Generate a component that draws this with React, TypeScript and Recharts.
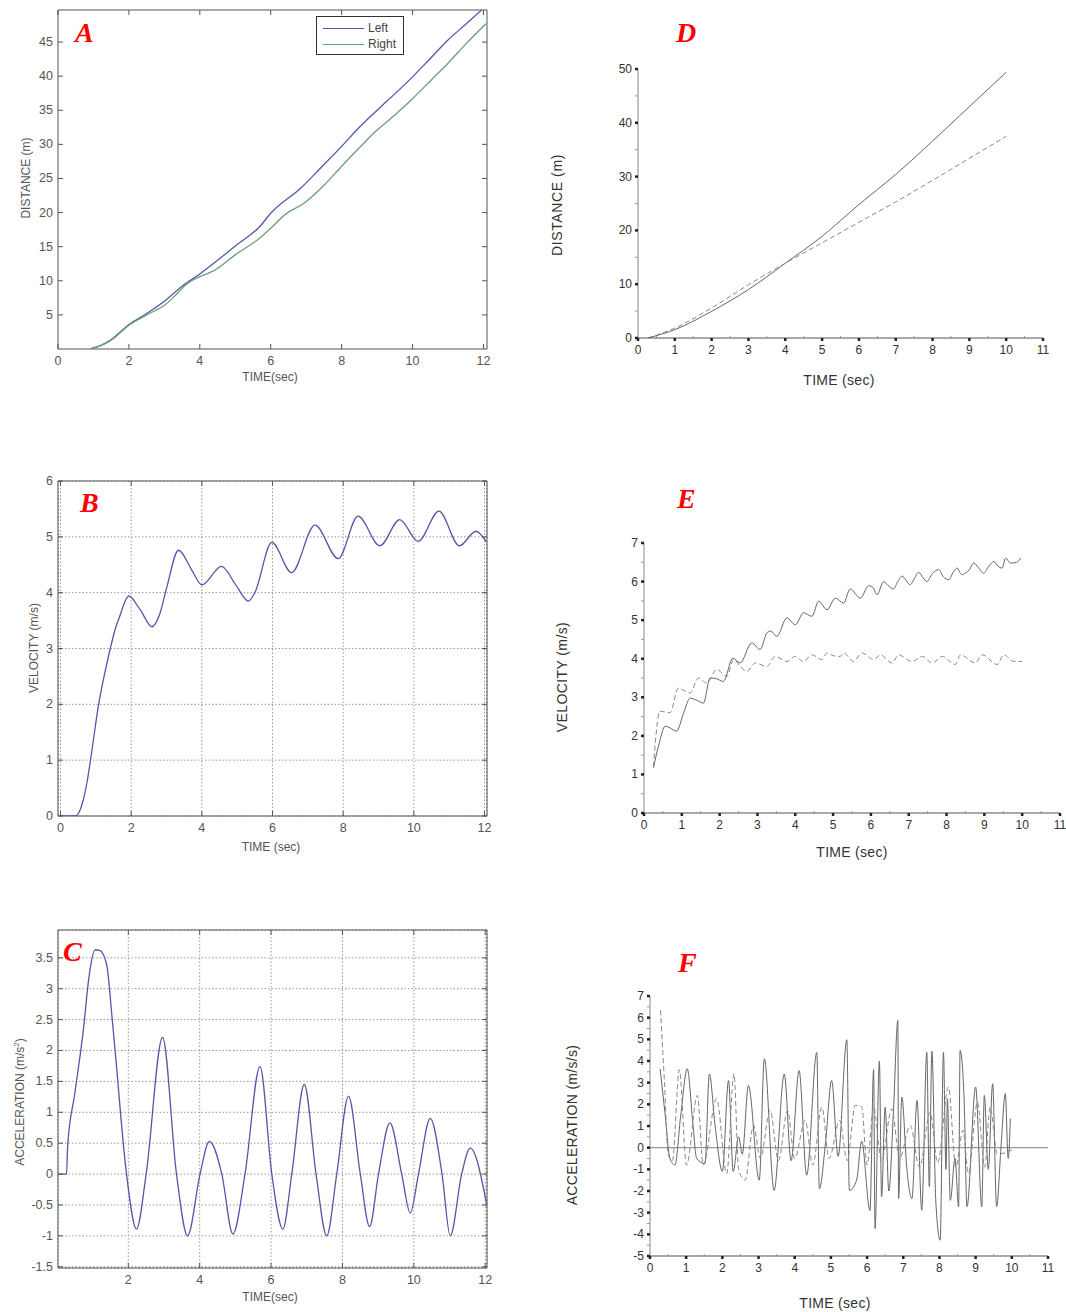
import React from "react";
import {
  LineChart, Line, XAxis, YAxis, CartesianGrid, ReferenceArea, ReferenceLine, Legend,
} from "recharts";

type Pt = { t: number; v: number };
const pts = (rows: number[][]): Pt[] => rows.map(([t, v]) => ({ t, v }));

// ---------- A: distance (left / right wheel)
const aLeft = pts([
  [0.9, 0], [1.2, 0.5], [1.48, 1.3], [2, 3.6], [2.5, 5.2], [3, 7.0], [3.5, 9.2], [4, 11.0],
  [4.5, 13.0], [5, 15.1], [5.7, 18.0], [6, 19.9], [6.85, 23.6], [7.4, 26.5], [8, 29.7],
  [8.5, 32.5], [9, 35.0], [9.5, 37.4], [10, 39.9], [10.5, 42.6], [11, 45.3], [11.5, 47.6], [11.95, 49.7],
]);
const aRight = pts([
  [0.9, 0], [1.2, 0.5], [1.5, 1.3], [2, 3.5], [2.5, 5.0], [3, 6.4], [3.3, 7.8], [3.65, 9.6],
  [4, 10.6], [4.4, 11.5], [5, 13.8], [5.7, 16.3], [6, 17.7], [6.4, 19.7], [6.95, 21.4],
  [7.5, 24.0], [8, 26.8], [8.5, 29.5], [9, 32.1], [9.5, 34.3], [10, 36.7], [10.5, 39.3],
  [11, 41.9], [11.5, 44.7], [12.07, 47.7],
]);
const A_XTICKS = [0, 2, 4, 6, 8, 10, 12];
const A_YTICKS = [5, 10, 15, 20, 25, 30, 35, 40, 45];

// ---------- B: velocity
const bVel = pts([
  [0, 0], [0.42, 0], [0.55, 0.1], [0.65, 0.3], [0.75, 0.6], [0.85, 1.0], [1.08, 2.0], [1.25, 2.55],
  [1.41, 3.0], [1.55, 3.35], [1.69, 3.6], [1.8, 3.8], [1.93, 3.94], [2.26, 3.69], [2.59, 3.39],
  [2.8, 3.6], [3.01, 4.1], [3.34, 4.76], [3.72, 4.4], [4.0, 4.14], [4.56, 4.47], [4.95, 4.15],
  [5.32, 3.85], [5.5, 4.0], [5.98, 4.9], [6.54, 4.36], [7.2, 5.21], [7.86, 4.61], [8.42, 5.37],
  [9.04, 4.84], [9.6, 5.31], [10.12, 4.92], [10.71, 5.46], [11.29, 4.84], [11.76, 5.1], [12.05, 4.91],
]);
const B_XTICKS = [0, 2, 4, 6, 8, 10, 12];
const B_YTICKS = [0, 1, 2, 3, 4, 5, 6];

// ---------- C: acceleration
const cAcc = pts([
  [0, 0], [0.27, 0], [0.3, 0.45], [0.5, 1.3], [0.74, 2.33], [0.9, 3.2], [1.07, 3.63], [1.2, 3.62],
  [1.39, 3.4], [1.55, 2.5], [1.63, 2.0], [1.95, 0], [2.23, -0.89], [2.5, 0], [2.96, 2.21], [3.35, 0],
  [3.66, -1.0], [4.01, 0], [4.27, 0.53], [4.62, 0], [4.93, -0.97], [5.27, 0], [5.69, 1.74], [6.02, 0],
  [6.33, -0.89], [6.58, 0], [6.93, 1.45], [7.26, 0], [7.56, -1.0], [7.84, 0], [8.17, 1.26], [8.5, 0],
  [8.76, -0.85], [9.01, 0], [9.33, 0.83], [9.66, 0], [9.9, -0.63], [10.13, 0], [10.46, 0.9], [10.79, 0],
  [11.02, -1.0], [11.34, 0], [11.58, 0.42], [12.05, -0.52],
]);
const C_XTICKS = [2, 4, 6, 8, 10, 12];
const C_YTICKS = [-1.5, -1, -0.5, 0, 0.5, 1, 1.5, 2, 2.5, 3, 3.5];

// ---------- D: distance (measured vs model)
const dSolid = pts([
  [0.27, 0], [1, 1.55], [2, 4.96], [3, 9.0], [4, 13.9], [5, 18.9], [6, 24.8], [7, 30.4],
  [8, 36.6], [9, 43.0], [10, 49.4],
]);
const dDashed = pts([
  [0.27, 0], [1, 1.85], [2, 5.6], [3, 9.9], [4, 13.9], [5, 17.7], [6, 21.5], [7, 25.3],
  [8, 29.3], [9, 33.4], [10, 37.5],
]);

// ---------- E: velocity
const eSolid = pts([
  [0.25, 1.17], [0.4, 1.8], [0.56, 2.25], [0.7, 2.2], [0.86, 2.12], [1.05, 2.6], [1.22, 2.98],
  [1.4, 2.92], [1.57, 2.85], [1.75, 3.5], [1.92, 3.48], [2.1, 3.41], [2.35, 4.02], [2.54, 3.89],
  [2.85, 4.41], [3.07, 4.24], [3.25, 4.67], [3.35, 4.72], [3.51, 4.58], [3.78, 5.06], [4.0, 4.88],
  [4.22, 5.19], [4.44, 5.1], [4.62, 5.49], [4.84, 5.27], [5.06, 5.57], [5.28, 5.44], [5.45, 5.81],
  [5.72, 5.57], [5.94, 5.89], [6.05, 5.85], [6.16, 5.66], [6.34, 6.0], [6.45, 5.9], [6.6, 5.81],
  [6.7, 5.98], [6.82, 6.14], [7.04, 5.92], [7.15, 6.08], [7.26, 6.24], [7.38, 6.1], [7.48, 6.0],
  [7.62, 6.2], [7.79, 6.31], [7.92, 6.12], [8.06, 6.05], [8.18, 6.25], [8.28, 6.35], [8.4, 6.18],
  [8.5, 6.22], [8.6, 6.3], [8.72, 6.48], [8.85, 6.35], [8.98, 6.22], [9.12, 6.4], [9.25, 6.52],
  [9.36, 6.4], [9.47, 6.35], [9.56, 6.61], [9.69, 6.48], [9.85, 6.5], [9.96, 6.61],
]);
const eDashed = pts([
  [0.25, 1.2], [0.42, 2.64], [0.55, 2.62], [0.69, 2.6], [0.91, 3.24], [1.05, 3.18], [1.22, 3.11],
  [1.44, 3.5], [1.66, 3.37], [1.92, 3.72], [2.19, 3.54], [2.37, 3.98], [2.55, 3.8], [2.72, 3.67],
  [2.94, 3.89], [3.25, 3.8], [3.47, 4.06], [3.78, 3.93], [4.0, 4.06], [4.22, 3.93], [4.44, 4.1],
  [4.7, 3.98], [4.84, 4.15], [5.0, 4.08], [5.19, 4.06], [5.28, 4.15], [5.54, 3.93], [5.76, 4.15],
  [6.07, 3.98], [6.25, 4.1], [6.56, 3.89], [6.73, 4.1], [7.09, 3.93], [7.36, 4.06], [7.62, 3.89],
  [7.89, 4.06], [8.23, 3.85], [8.37, 4.1], [8.76, 3.89], [8.94, 4.1], [9.34, 3.85], [9.51, 4.1],
  [9.78, 3.93], [10.0, 3.93],
]);

// ---------- F: acceleration
const fSolid = pts([
  [0.28, 3.64], [0.42, 1.5], [0.55, -0.5], [0.69, -0.8], [0.85, 1.5], [1.03, 3.64], [1.18, 1.2],
  [1.29, -0.5], [1.52, -0.74], [1.64, 3.4], [1.8, 1.0], [2.0, -1.1], [2.17, 3.1], [2.3, -1.1],
  [2.45, 0.5], [2.55, -0.3], [2.72, 2.87], [3.02, -1.5], [3.16, 4.1], [3.43, -1.97], [3.71, 3.4],
  [3.9, -0.6], [4.12, 3.56], [4.33, -1.27], [4.61, 4.4], [4.68, -1.9], [4.85, 0.2], [5.02, 3.1],
  [5.2, -0.4], [5.44, 4.98], [5.51, -1.97], [5.71, -1.5], [5.85, 0.3], [6.08, -2.9], [6.18, 3.6],
  [6.22, -3.73], [6.34, 4.0], [6.4, -2.27], [6.5, 1.87], [6.6, -2.0], [6.73, 1.72], [6.85, 5.87],
  [6.87, -2.35], [6.96, 2.33], [7.1, -1.0], [7.24, -2.35], [7.38, 2.18], [7.51, -2.89], [7.65, 4.4],
  [7.72, -1.8], [7.79, 4.45], [7.9, -2.5], [8.02, -4.27], [8.11, 4.4], [8.18, -1.0], [8.22, 2.26],
  [8.3, -2.43], [8.43, -0.5], [8.53, -2.73], [8.57, 4.49], [8.68, 2.33], [8.76, -2.73], [9.0, 2.8],
  [9.17, -2.73], [9.24, 2.41], [9.35, -1.0], [9.47, 2.95], [9.58, -2.73], [9.7, 0.0], [9.82, 2.49],
  [9.9, -0.5], [9.96, 1.34],
]);
const fDashed = pts([
  [0.29, 6.34], [0.4, 3.0], [0.5, -0.3], [0.62, -0.6], [0.81, 3.6], [1.01, -0.8], [1.31, 2.41],
  [1.47, -0.8], [1.84, 2.26], [2.12, -1.2], [2.32, 3.41], [2.45, -1.0], [2.63, -1.5], [2.86, 1.03],
  [3.05, -0.5], [3.32, 1.72], [3.55, -0.6], [3.8, 1.72], [4.0, -0.5], [4.29, 1.26], [4.5, -0.8],
  [4.75, 1.87], [4.95, -0.5], [5.24, 1.26], [5.45, -0.6], [5.67, 1.95], [5.85, 1.9], [6.0, -0.8],
  [6.18, 1.87], [6.4, -0.6], [6.68, 1.8], [6.9, -0.5], [7.19, 1.03], [7.45, -0.9], [7.74, 1.64],
  [7.95, -0.7], [8.25, 2.8], [8.45, -0.9], [8.65, 0.8], [8.8, -1.2], [9.05, 2.1], [9.25, -0.9],
  [9.4, 1.87], [9.6, -0.3], [10.0, -0.1],
]);

// tick helper for the old-style axes (major + half-step minor ticks)
const steps = (a: number, b: number, s: number) => {
  const out: number[] = [];
  for (let v = a; v <= b + 1e-9; v += s) out.push(Math.round(v * 100) / 100);
  return out;
};
const OLD_XTICKS = steps(0, 11, 0.5);
const D_YTICKS = steps(0, 50, 5);
const E_YTICKS = steps(0, 7, 0.5);
const F_YTICKS = steps(-5, 7, 0.5);

const SANS = '"Liberation Sans", Arial, Helvetica, sans-serif';
const SERIF = '"Liberation Serif", "Times New Roman", serif';
const PAD_L = 60, PAD_T = 10, PAD_R = 10, PAD_B = 40;

type Box = { l: number; t: number; r: number; b: number };

function MatXTick(p: any) {
  const { x, payload, pTop, pBot } = p;
  return (
    <g>
      <line x1={x} x2={x} y1={pBot} y2={pBot - 5} stroke="#555" />
      <line x1={x} x2={x} y1={pTop} y2={pTop + 5} stroke="#555" />
      <text x={x} y={pBot + 12} textAnchor="middle" dominantBaseline="central"
        fontSize={12.5} fill="#555" fontFamily={SANS}>{payload.value}</text>
    </g>
  );
}

function MatYTick(p: any) {
  const { y, payload, pLeft, pRight } = p;
  return (
    <g>
      <line x1={pLeft} x2={pLeft + 5} y1={y} y2={y} stroke="#555" />
      <line x1={pRight} x2={pRight - 5} y1={y} y2={y} stroke="#555" />
      <text x={pLeft - 5} y={y} textAnchor="end" dominantBaseline="central"
        fontSize={12.5} fill="#555" fontFamily={SANS}>{payload.value}</text>
    </g>
  );
}

function OldXTick(p: any) {
  const { x, payload, pBot } = p;
  const major = Number.isInteger(payload.value);
  return (
    <g>
      {major
        ? <line x1={x} x2={x} y1={pBot} y2={pBot + 3} stroke="#222" strokeWidth={2.5} />
        : <line x1={x} x2={x} y1={pBot - 2} y2={pBot + 1} stroke="#999" />}
      {major && (
        <text x={x} y={pBot + 12} textAnchor="middle" dominantBaseline="central"
          fontSize={12} fill="#333" fontFamily={SANS}>{payload.value}</text>
      )}
    </g>
  );
}

function OldYTick(p: any) {
  const { y, payload, pLeft, every } = p;
  const v = payload.value;
  const major = Math.abs(v / every - Math.round(v / every)) < 1e-6;
  return (
    <g>
      {major
        ? <line x1={pLeft - 3} x2={pLeft} y1={y} y2={y} stroke="#222" strokeWidth={2.5} />
        : <line x1={pLeft - 3} x2={pLeft} y1={y} y2={y} stroke="#999" />}
      {major && (
        <text x={pLeft - 6} y={y} textAnchor="end" dominantBaseline="central"
          fontSize={12} fill="#333" fontFamily={SANS}>{v}</text>
      )}
    </g>
  );
}

function LegendBox({ payload }: any) {
  return (
    <div style={{
      border: "1px solid #333", background: "#fff", width: 86, height: 37,
      position: "relative", fontFamily: SANS, fontSize: 12, color: "#444",
    }}>
      {(payload || []).map((p: any, i: number) => (
        <div key={p.value} style={{ position: "absolute", left: 6, top: 3 + i * 16, height: 16, display: "flex", alignItems: "center" }}>
          <span style={{ display: "inline-block", width: 41, borderTop: `1.3px solid ${p.color}`, marginRight: 4 }} />
          {p.value}
        </div>
      ))}
    </div>
  );
}

type Series = { name: string; data: Pt[]; color: string; dashed?: boolean };

function MatPanel({ box, xDomain, yDomain, xTicks, yTicks, grid, series, legend }: {
  box: Box; xDomain: number[]; yDomain: number[]; xTicks: number[]; yTicks: number[];
  grid?: boolean; series: Series[]; legend?: boolean;
}) {
  const W = box.r - box.l + PAD_L + PAD_R;
  const H = box.b - box.t + PAD_T + PAD_B;
  const pl = PAD_L, pr = W - PAD_R, pt = PAD_T, pb = H - PAD_B;
  return (
    <div style={{ position: "absolute", left: box.l - PAD_L, top: box.t - PAD_T }}>
      <LineChart width={W} height={H} margin={{ top: 10, right: 10, bottom: 10, left: 10 }}>
        {grid && <CartesianGrid stroke="#999" strokeDasharray="1.5 2" />}
        <ReferenceArea x1={xDomain[0]} x2={xDomain[1]} y1={yDomain[0]} y2={yDomain[1]}
          fill="none" stroke="#555" ifOverflow="visible" />
        <XAxis type="number" dataKey="t" domain={xDomain} ticks={xTicks} interval={0} allowDataOverflow
          axisLine={false} tickLine={false} height={30}
          tick={(p: any) => <MatXTick {...p} pTop={pt} pBot={pb} />} />
        <YAxis type="number" domain={yDomain} ticks={yTicks} interval={0} allowDataOverflow
          axisLine={false} tickLine={false} width={50}
          tick={(p: any) => <MatYTick {...p} pLeft={pl} pRight={pr} />} />
        {series.map((s) => (
          <Line key={s.name} data={s.data} dataKey="v" name={s.name} type="monotone"
            stroke={s.color} strokeWidth={1.3} dot={false} isAnimationActive={false} />
        ))}
        {legend && (
          <Legend layout="vertical" align="center" verticalAlign="middle"
            wrapperStyle={{ left: 318, top: 16, width: 88, height: 39 }}
            content={(props: any) => <LegendBox {...props} />} />
        )}
      </LineChart>
    </div>
  );
}

function OldPanel({ box, yDomain, yTicks, every, series, zeroLine }: {
  box: Box; yDomain: number[]; yTicks: number[]; every: number; series: Series[]; zeroLine?: boolean;
}) {
  const W = box.r - box.l + PAD_L + PAD_R;
  const H = box.b - box.t + PAD_T + PAD_B;
  const pl = PAD_L, pb = H - PAD_B;
  return (
    <div style={{ position: "absolute", left: box.l - PAD_L, top: box.t - PAD_T }}>
      <LineChart width={W} height={H} margin={{ top: 10, right: 10, bottom: 10, left: 10 }}>
        <XAxis type="number" dataKey="t" domain={[0, 11]} ticks={OLD_XTICKS} interval={0} allowDataOverflow
          axisLine={{ stroke: "#555", strokeWidth: 1.2 }} tickLine={false} height={30}
          tick={(p: any) => <OldXTick {...p} pBot={pb} />} />
        <YAxis type="number" domain={yDomain} ticks={yTicks} interval={0} allowDataOverflow
          axisLine={{ stroke: "#888" }} tickLine={false} width={50}
          tick={(p: any) => <OldYTick {...p} pLeft={pl} every={every} />} />
        {zeroLine && <ReferenceLine y={0} stroke="#999" strokeWidth={1.2} />}
        {series.map((s) => (
          <Line key={s.name} data={s.data} dataKey="v" name={s.name} type="monotone"
            stroke={s.color} strokeWidth={1} strokeDasharray={s.dashed ? "5 3" : undefined}
            dot={false} isAnimationActive={false} />
        ))}
      </LineChart>
    </div>
  );
}

function Title({ x, y, text, rotate, size = 12, color = "#555", spacing = 0 }: {
  x: number; y: number; text: React.ReactNode; rotate?: boolean; size?: number; color?: string; spacing?: number;
}) {
  return (
    <div style={{
      position: "absolute", left: x, top: y, whiteSpace: "nowrap", fontFamily: SANS,
      fontSize: size, color, letterSpacing: spacing, lineHeight: 1,
      transform: `translate(-50%, -50%)${rotate ? " rotate(-90deg)" : ""}`,
    }}>{text}</div>
  );
}

function Letter({ x, y, ch }: { x: number; y: number; ch: string }) {
  return (
    <div style={{
      position: "absolute", left: x, top: y, fontFamily: SERIF, fontWeight: "bold",
      fontStyle: "italic", fontSize: 28, lineHeight: "28px", color: "#ff0000",
    }}>{ch}</div>
  );
}

const BLUE = "#5656a8";
const GREEN = "#6a9f7c";
const GREY = "#666";
const GREY_D = "#888";

export default function App() {
  return (
    <div style={{ position: "absolute", left: 0, top: 0, width: 1066, height: 1312, background: "#fff", overflow: "hidden" }}>
      <MatPanel box={{ l: 58, t: 10, r: 487, b: 349 }} xDomain={[0, 12.1]} yDomain={[0, 49.7]}
        xTicks={A_XTICKS} yTicks={A_YTICKS} legend
        series={[{ name: "Left", data: aLeft, color: BLUE }, { name: "Right", data: aRight, color: GREEN }]} />
      <MatPanel box={{ l: 58, t: 481, r: 487, b: 816 }} xDomain={[-0.07, 12.07]} yDomain={[0, 6]}
        xTicks={B_XTICKS} yTicks={B_YTICKS} grid
        series={[{ name: "velocity", data: bVel, color: BLUE }]} />
      <MatPanel box={{ l: 58, t: 930, r: 487, b: 1268 }} xDomain={[0.03, 12.05]} yDomain={[-1.52, 3.95]}
        xTicks={C_XTICKS} yTicks={C_YTICKS} grid
        series={[{ name: "acceleration", data: cAcc, color: BLUE }]} />

      <OldPanel box={{ l: 638, t: 69, r: 1043, b: 338 }} yDomain={[0, 50]} yTicks={D_YTICKS} every={10}
        series={[{ name: "solid", data: dSolid, color: GREY }, { name: "dashed", data: dDashed, color: GREY_D, dashed: true }]} />
      <OldPanel box={{ l: 644, t: 543, r: 1060, b: 813 }} yDomain={[0, 7]} yTicks={E_YTICKS} every={1}
        series={[{ name: "solid", data: eSolid, color: GREY }, { name: "dashed", data: eDashed, color: GREY_D, dashed: true }]} />
      <OldPanel box={{ l: 650, t: 996, r: 1048, b: 1256 }} yDomain={[-5, 7]} yTicks={F_YTICKS} every={1} zeroLine
        series={[{ name: "solid", data: fSolid, color: GREY }, { name: "dashed", data: fDashed, color: GREY_D, dashed: true }]} />

      <Title x={26} y={178} text="DISTANCE (m)" rotate />
      <Title x={270} y={377} text="TIME(sec)" />
      <Title x={34} y={648} text="VELOCITY (m/s)" rotate />
      <Title x={271} y={847} text="TIME (sec)" />
      <Title x={19} y={1102} rotate text={<span>ACCELERATION (m/s<sup style={{ fontSize: 8 }}>2</sup>)</span>} />
      <Title x={270} y={1297} text="TIME(sec)" />

      <Title x={557} y={205} text="DISTANCE (m)" rotate size={14} color="#333" spacing={0.6} />
      <Title x={839} y={380} text="TIME (sec)" size={14} color="#333" spacing={0.3} />
      <Title x={562} y={677} text="VELOCITY (m/s)" rotate size={14} color="#333" spacing={0.4} />
      <Title x={852} y={852} text="TIME (sec)" size={14} color="#333" spacing={0.3} />
      <Title x={572} y={1125} text="ACCELERATION (m/s/s)" rotate size={14} color="#333" spacing={0.3} />
      <Title x={835} y={1303} text="TIME (sec)" size={14} color="#333" spacing={0.3} />

      <Letter x={75} y={19} ch="A" />
      <Letter x={80} y={489} ch="B" />
      <Letter x={63} y={938} ch="C" />
      <Letter x={676} y={19} ch="D" />
      <Letter x={677} y={485} ch="E" />
      <Letter x={678} y={949} ch="F" />
    </div>
  );
}
